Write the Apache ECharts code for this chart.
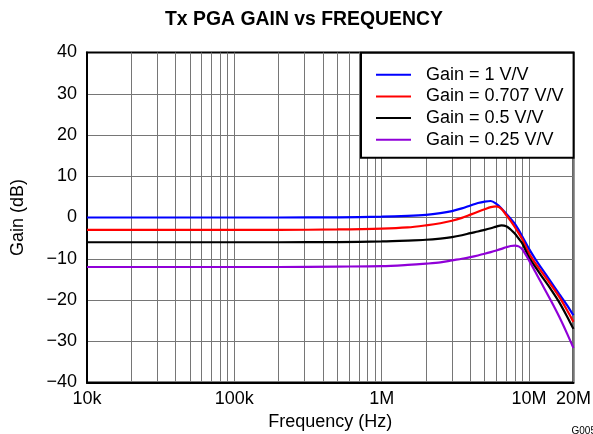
<!DOCTYPE html>
<html>
<head>
<meta charset="utf-8">
<script src="https://cdn.jsdelivr.net/npm/echarts@6/dist/echarts.min.js"></script>
<style>
html,body{margin:0;padding:0;background:#fff;}
#c{width:593px;height:434px;}
</style>
</head>
<body>
<div id="c"></div>
<script>
var freqHz = [1e4, 2e4, 5e4, 1e5, 2e5, 5e5, 1e6, 1.5e6, 2e6, 2.5e6, 3e6, 3.5e6, 4e6, 4.5e6, 5e6, 5.5e6, 6e6, 6.5e6, 7e6, 7.5e6, 8e6, 8.5e6, 9e6, 1e7, 1.1e7, 1.2e7, 1.4e7, 1.6e7, 1.8e7, 2e7];
var gain1 = [0.0, 0.0, 0.0, 0.0, 0.0, 0.05, 0.2, 0.4, 0.65, 1.05, 1.55, 2.2, 2.9, 3.5, 3.85, 4.0, 3.3, 2.2, 0.9, -0.3, -1.5, -3.0, -4.6, -7.6, -10.0, -12.0, -15.5, -18.5, -21.1, -23.7];
var gain0707 = [-3.0, -3.0, -3.0, -3.0, -3.0, -2.9, -2.7, -2.4, -1.9, -1.4, -0.8, -0.1, 0.7, 1.4, 2.0, 2.5, 2.7, 2.1, 0.6, -0.8, -2.3, -3.8, -5.3, -8.7, -11.0, -12.9, -16.2, -19.2, -22.3, -25.3];
var gain05 = [-6.0, -6.0, -6.0, -6.0, -6.0, -5.95, -5.8, -5.6, -5.4, -5.1, -4.75, -4.3, -3.8, -3.4, -3.0, -2.6, -2.2, -1.9, -2.1, -2.9, -3.9, -5.1, -6.3, -9.7, -11.9, -13.9, -17.3, -20.5, -23.8, -27.0];
var gain025 = [-12.0, -12.0, -12.0, -12.0, -12.0, -11.9, -11.8, -11.5, -11.2, -10.9, -10.4, -10.0, -9.6, -9.2, -8.8, -8.4, -8.0, -7.6, -7.2, -6.9, -6.8, -7.0, -7.7, -10.4, -13.1, -15.6, -20.0, -24.0, -27.9, -31.6];
var seriesNames = ['Gain = 1 V/V', 'Gain = 0.707 V/V', 'Gain = 0.5 V/V', 'Gain = 0.25 V/V'];
var seriesColors = ['#0000ff', '#ff0000', '#000000', '#9000d8'];
var xLabelValues = [1e4, 1e5, 1e6, 1e7, 2e7];
var xLabelTexts = ['10k', '100k', '1M', '10M', '20M'];
var decades = [1e4, 1e5, 1e6, 1e7];
var mantissas = [1, 2, 3, 4, 5, 6, 7, 8, 9];

var gridValues = [];
decades.forEach(function (d) { mantissas.forEach(function (m) { gridValues.push(m * d); }); });
gridValues.push(2e7);

function pairs(vals) { return freqHz.map(function (f, i) { return [f, vals[i]]; }); }
var allVals = [gain1, gain0707, gain05, gain025];

var FONT = 'Liberation Sans, Arial, Helvetica, sans-serif';
var GRIDC = '#767676';
var chart = echarts.init(document.getElementById('c'), null, {renderer: 'canvas'});
chart.setOption({
  backgroundColor: '#fff',
  animation: false,
  title: [{
    text: 'Tx PGA GAIN vs FREQUENCY',
    left: 165, top: 10, padding: 0,
    textStyle: {fontFamily: FONT, fontSize: 19.4, fontWeight: 'bold', color: '#000'}
  }, {
    text: 'G005',
    left: 571.5, top: 426, padding: 0,
    textStyle: {fontFamily: FONT, fontSize: 10, fontWeight: 'normal', color: '#000'}
  }],
  legend: {
    orient: 'vertical',
    left: 361, top: 52.7,
    padding: [13, 10, 9, 15],
    itemGap: 3.7,
    itemWidth: 35, itemHeight: 2,
    icon: 'rect',
    backgroundColor: '#fff',
    borderColor: '#000', borderWidth: 2,
    textStyle: {fontFamily: FONT, fontSize: 18, color: '#000', lineHeight: 18, padding: [0, 0, 0, 10]},
    data: seriesNames
  },
  grid: {
    left: 87, right: 19.6, top: 52.5, bottom: 51.5,
    show: true, borderColor: '#000', borderWidth: 2,
    containLabel: false, outerBoundsMode: 'none'
  },
  xAxis: {
    type: 'log', logBase: 10, min: 1e4, max: 2e7,
    name: 'Frequency (Hz)', nameLocation: 'middle', nameGap: 27,
    nameTextStyle: {fontFamily: FONT, fontSize: 18, color: '#000'},
    axisLine: {show: true, onZero: false, lineStyle: {color: '#000', width: 2}},
    axisTick: {show: false, customValues: gridValues},
    axisLabel: {
      customValues: xLabelValues, margin: 8,
      fontFamily: FONT, fontSize: 18, color: '#000',
      formatter: function (v) {
        var best = 0, bd = Infinity;
        xLabelValues.forEach(function (x, i) { var d = Math.abs(Math.log(x) - Math.log(v)); if (d < bd) { bd = d; best = i; } });
        return xLabelTexts[best];
      }
    },
    splitLine: {show: true, showMinLine: false, showMaxLine: false, lineStyle: {color: GRIDC, width: 1}},
    minorTick: {show: false}, minorSplitLine: {show: false}
  },
  yAxis: {
    type: 'value', min: -40, max: 40, interval: 10,
    name: 'Gain (dB)', nameLocation: 'middle', nameGap: 60,
    nameTextStyle: {fontFamily: FONT, fontSize: 18, color: '#000'},
    axisLine: {show: true, onZero: false, lineStyle: {color: '#000', width: 2}},
    axisTick: {show: false},
    axisLabel: {
      margin: 10, fontFamily: FONT, fontSize: 18, color: '#000',
      formatter: function (v) { return String(v).replace('-', '\u2212'); }
    },
    splitLine: {show: true, showMinLine: false, showMaxLine: false, lineStyle: {color: GRIDC, width: 1}}
  },
  series: seriesNames.map(function (n, i) {
    return {
      name: n, type: 'line', data: pairs(allVals[i]),
      showSymbol: false, symbol: 'none', smooth: 0.3,
      color: seriesColors[i],
      lineStyle: {color: seriesColors[i], width: 2.2},
      itemStyle: {color: seriesColors[i]},
      emphasis: {disabled: true}
    };
  })
});
</script>
</body>
</html>
